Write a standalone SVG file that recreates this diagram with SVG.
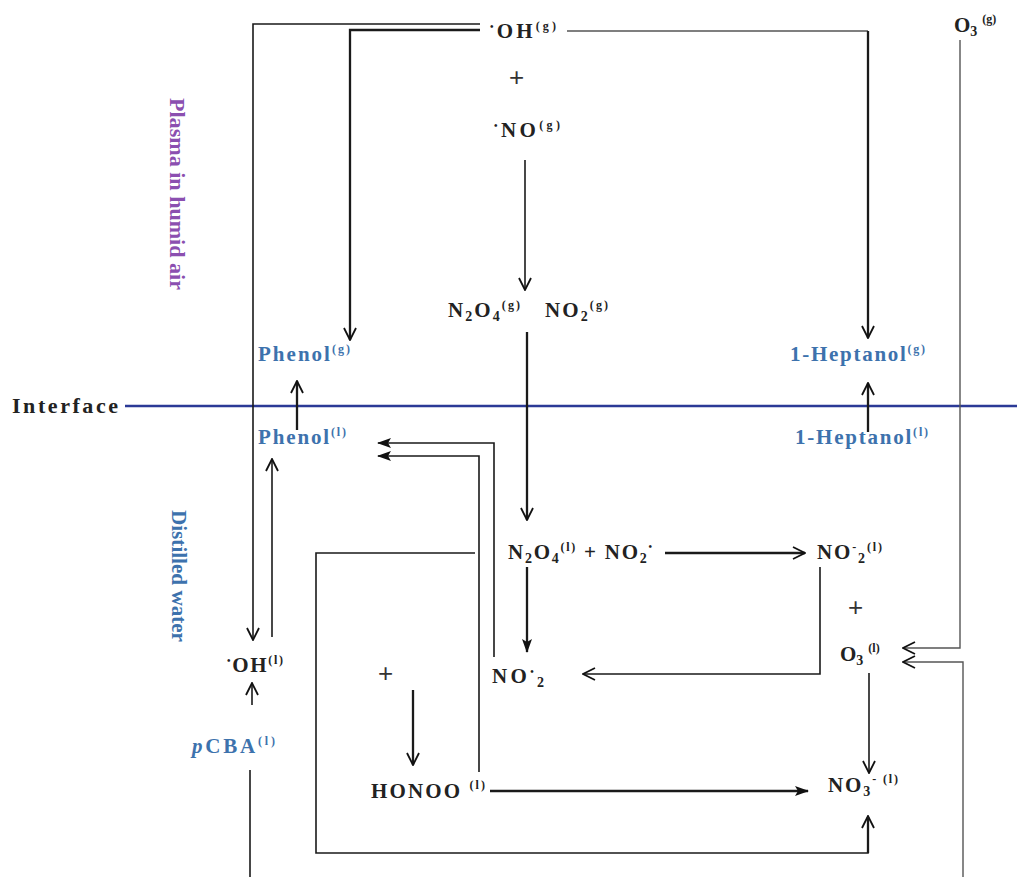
<svg xmlns="http://www.w3.org/2000/svg" width="1017" height="877" viewBox="0 0 1017 877">
<defs>
<marker id="open" viewBox="0 0 14 14" refX="13" refY="7" markerWidth="14" markerHeight="14" markerUnits="userSpaceOnUse" orient="auto">
<path d="M1,1 L13,7 L1,13" fill="none" stroke="#111" stroke-width="1.8"/>
</marker>
<marker id="fill" viewBox="0 0 14 14" refX="13" refY="7" markerWidth="14" markerHeight="14" markerUnits="userSpaceOnUse" orient="auto">
<path d="M0,2 L14,7 L0,12 L3,7 Z" fill="#111"/>
</marker>
</defs>
<style>
.t{font-family:"Liberation Serif",serif;font-weight:bold;font-size:21px;fill:#222}
.b{fill:#3d72ad}
.sup{font-size:12px}
.sub{font-size:14px}
.dot{font-size:10px}
.plus{font-family:"Liberation Sans",sans-serif;font-size:26px;fill:#333}
.ln{fill:none;stroke:#1a1a1a;stroke-width:1.6}
.thk{stroke-width:2.3}
.gr{stroke:#555;stroke-width:1.4}
</style>
<rect width="1017" height="877" fill="#fff"/>

<g id="interface-line">
<line x1="125" y1="406" x2="1017" y2="406" stroke="#2b3a96" stroke-width="2.5"/>
</g>

<g id="connectors">
<path class="ln" d="M480,24 H253 V640" marker-end="url(#open)"/>
<path class="ln thk" d="M480,30 H350 V340" marker-end="url(#open)"/>
<path class="ln gr" d="M567,31 H868"/>
<path class="ln thk" d="M868,31 V338" marker-end="url(#open)"/>
<path class="ln gr" d="M960,40 V648 H903" marker-end="url(#open)"/>
<path class="ln gr" d="M963,877 V662 H903" marker-end="url(#open)"/>
<path class="ln" d="M525,160 V290" marker-end="url(#open)"/>
<path class="ln thk" d="M527,332 V520" marker-end="url(#open)"/>
<path class="ln thk" d="M297,430 V381" marker-end="url(#open)"/>
<path class="ln thk" d="M868,432 V383" marker-end="url(#open)"/>
<path class="ln" d="M494,657 V443 H378" marker-end="url(#fill)"/>
<path class="ln" d="M479,772 V456 H378" marker-end="url(#fill)"/>
<path class="ln" d="M475,553 H316 V853 H868 V816" marker-end="url(#open)"/>
<path class="ln thk" d="M868,853 V817"/>
<path class="ln" d="M252,705 V683" marker-end="url(#open)"/>
<path class="ln" d="M250,770 V877"/>
<path class="ln" d="M272,637 V459" marker-end="url(#open)"/>
<path class="ln thk" d="M665,553 H805" marker-end="url(#open)"/>
<path class="ln thk" d="M527,567 V652" marker-end="url(#fill)"/>
<path class="ln" d="M820,567 V674 H583" marker-end="url(#open)"/>
<path class="ln" d="M869,673 V773" marker-end="url(#open)"/>
<path class="ln thk" d="M413,690 V765" marker-end="url(#open)"/>
<path class="ln thk" d="M490,791 H808" marker-end="url(#fill)"/>
</g>

<g id="label-plasma">
<text class="t" transform="translate(170,98) rotate(90)" style="fill:#8b4fb0;font-size:20px" textLength="192" lengthAdjust="spacingAndGlyphs">Plasma in humid air</text>
</g>
<g id="label-water">
<text class="t" transform="translate(172,510) rotate(90)" style="fill:#3d72ad;font-size:20px" textLength="132" lengthAdjust="spacingAndGlyphs">Distilled water</text>
</g>
<g id="label-interface">
<text class="t" x="12" y="413" style="font-size:22px" textLength="106" lengthAdjust="spacing">Interface</text>
</g>

<g id="oh-g">
<text class="t" x="490" y="38" textLength="66" lengthAdjust="spacing"><tspan class="dot" dy="-8">•</tspan><tspan dy="8">OH</tspan><tspan class="sup" dy="-8">(g)</tspan></text>
</g>
<g id="plus-1"><text class="plus" x="509" y="86">+</text></g>
<g id="no-g">
<text class="t" x="494" y="137" textLength="66" lengthAdjust="spacing"><tspan class="dot" dy="-8">•</tspan><tspan dy="8">NO</tspan><tspan class="sup" dy="-8">(g)</tspan></text>
</g>
<g id="o3-g">
<text class="t" x="954" y="32">O<tspan class="sub" dy="4">3</tspan><tspan class="sup" dx="5" dy="-13">(g)</tspan></text>
</g>
<g id="n2o4-g">
<text class="t" x="448" y="317" textLength="72" lengthAdjust="spacing">N<tspan class="sub" dy="4">2</tspan><tspan dy="-4">O</tspan><tspan class="sub" dy="4">4</tspan><tspan class="sup" dy="-12">(g)</tspan></text>
</g>
<g id="no2-g">
<text class="t" x="545" y="317" textLength="63" lengthAdjust="spacing">NO<tspan class="sub" dy="4">2</tspan><tspan class="sup" dy="-12">(g)</tspan></text>
</g>
<g id="phenol-g">
<text class="t b" x="258" y="361" textLength="92" lengthAdjust="spacing">Phenol<tspan class="sup" dy="-8">(g)</tspan></text>
</g>
<g id="heptanol-g">
<text class="t b" x="790" y="361" textLength="135" lengthAdjust="spacing">1-Heptanol<tspan class="sup" dy="-8">(g)</tspan></text>
</g>
<g id="phenol-l">
<text class="t b" x="258" y="444" textLength="88" lengthAdjust="spacing">Phenol<tspan class="sup" dy="-8">(l)</tspan></text>
</g>
<g id="heptanol-l">
<text class="t b" x="795" y="444" textLength="133" lengthAdjust="spacing">1-Heptanol<tspan class="sup" dy="-8">(l)</tspan></text>
</g>
<g id="n2o4-l">
<text class="t" x="508" y="559" textLength="144" lengthAdjust="spacing">N<tspan class="sub" dy="4">2</tspan><tspan dy="-4">O</tspan><tspan class="sub" dy="4">4</tspan><tspan class="sup" dy="-12">(l)</tspan><tspan dy="8"> + NO</tspan><tspan class="sub" dy="4">2</tspan><tspan class="dot" dy="-13">•</tspan></text>
</g>
<g id="no2minus-l">
<text class="t" x="817" y="559" textLength="65" lengthAdjust="spacing">NO<tspan class="sup" dy="-8">-</tspan><tspan class="sub" dy="12">2</tspan><tspan class="sup" dy="-12">(l)</tspan></text>
</g>
<g id="plus-2"><text class="plus" x="848" y="616">+</text></g>
<g id="o3-l">
<text class="t" x="840" y="661">O<tspan class="sub" dy="4">3</tspan><tspan class="sup" dx="5" dy="-13">(l)</tspan></text>
</g>
<g id="oh-l">
<text class="t" x="227" y="672" textLength="56" lengthAdjust="spacing"><tspan class="dot" dy="-8">•</tspan><tspan dy="8">OH</tspan><tspan class="sup" dy="-8">(l)</tspan></text>
</g>
<g id="plus-3"><text class="plus" x="378" y="682">+</text></g>
<g id="no2-rad">
<text class="t" x="492" y="683" textLength="52" lengthAdjust="spacing">NO<tspan class="dot" dy="-8">•</tspan><tspan class="sub" dy="12">2</tspan></text>
</g>
<g id="pcba-l">
<text class="t b" x="192" y="753" textLength="83" lengthAdjust="spacing"><tspan font-style="italic">p</tspan>CBA<tspan class="sup" dy="-8">(l)</tspan></text>
</g>
<g id="honoo-l">
<text class="t" x="371" y="798" textLength="114" lengthAdjust="spacing">HONOO <tspan class="sup" dy="-9">(l)</tspan></text>
</g>
<g id="no3-l">
<text class="t" x="828" y="792" textLength="70" lengthAdjust="spacing">NO<tspan class="sub" dy="4">3</tspan><tspan class="sup" dy="-13">- (l)</tspan></text>
</g>
</svg>
